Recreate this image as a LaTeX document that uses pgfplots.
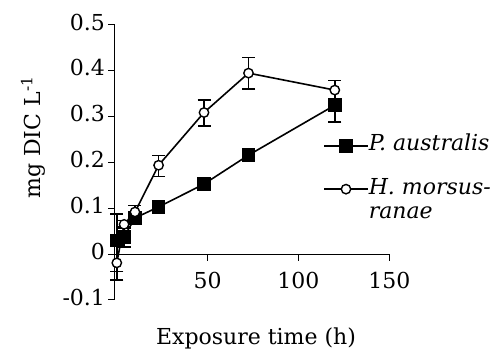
\documentclass[border=0pt]{standalone}
\usepackage{fontspec}
\setmainfont{DejaVu Serif}
\usepackage{pgfplots}
\pgfplotsset{compat=1.18}
\pgfplotstableread{
x y ep em
0 0.030 0.058 0.068
4 0.038 0.022 0.022
10 0.079 0.014 0.014
23 0.103 0.008 0.008
48 0.153 0.010 0.010
72.5 0.216 0.011 0.011
120 0.325 0.013 0.037
}\australis
\pgfplotstableread{
x y ep em
0 -0.019 0.037 0.037
4 0.065 0.008 0.008
10 0.092 0.014 0.014
23 0.194 0.021 0.025
48 0.309 0.027 0.029
72.5 0.395 0.034 0.035
120 0.358 0.021 0.021
}\morsus
\begin{document}
\begin{tikzpicture}
\useasboundingbox (0,0) rectangle (496pt,352pt);
\begin{axis}[
  at={(115pt,52pt)}, anchor=south west,
  scale only axis, width=274.3pt, height=275pt,
  xmin=-1, xmax=150, ymin=-0.1, ymax=0.5,
  axis x line=middle, axis y line=left,
  axis line style={-, line width=1pt},
  tick align=outside,
  major tick length=6.5pt,
  tick style={line width=1pt, black},
  minor tick num=0,
  clip=false,
  xtick={50,100,150}, xticklabels={50,100,150},
  ytick={-0.1,0,0.1,0.2,0.3,0.4,0.5},
  yticklabels={-0.1,0,0.1,0.2,0.3,0.4,0.5},
  tick label style={font=\fontsize{22}{26}\selectfont},
  xticklabel style={yshift=-8pt},
  yticklabel style={yshift=3pt},
  label style={font=\fontsize{22}{26}\selectfont},
  xlabel={Exposure time (h)},
  xlabel style={at={(axis description cs:0.514,-0.1636)}, anchor=base},
  ylabel={mg DIC L\textsuperscript{-1}},
  ylabel style={at={(axis description cs:-0.2734,0.591)}, anchor=base},
  legend style={at={(axis description cs:0.7583,0.604)}, anchor=north west,
    draw=none, fill=none, inner sep=0pt, row sep=25.8pt,
    font=\fontsize{22}{24}\selectfont\itshape,
    cells={anchor=base west}, nodes={inner sep=0pt}},
  legend image code/.code={\draw[mark repeat=2,mark phase=2,#1] plot coordinates {(0pt,5pt)(22pt,5pt)(44pt,5pt)};},
]
\addplot[black, line width=1.6pt, mark=square*, mark size=6pt,
  error bars/.cd, y dir=both, y explicit,
  error bar style={line width=1.5pt},
  error mark options={rotate=90, mark size=6.5pt, line width=1.5pt}]
  table[x=x, y=y, y error plus=ep, y error minus=em] {\australis};
\addlegendentry{P. australis}
\addplot[black, line width=1.6pt, mark=*, mark size=4.7pt, mark options={fill=white, line width=1.4pt},
  error bars/.cd, y dir=both, y explicit,
  error bar style={line width=1.5pt},
  error mark options={rotate=90, mark size=6.5pt, line width=1.5pt}]
  table[x=x, y=y, y error plus=ep, y error minus=em] {\morsus};
\addlegendentry{\vtop{\hbox{H. morsus-}\hbox{ranae}}}
\end{axis}
\end{tikzpicture}
\end{document}
